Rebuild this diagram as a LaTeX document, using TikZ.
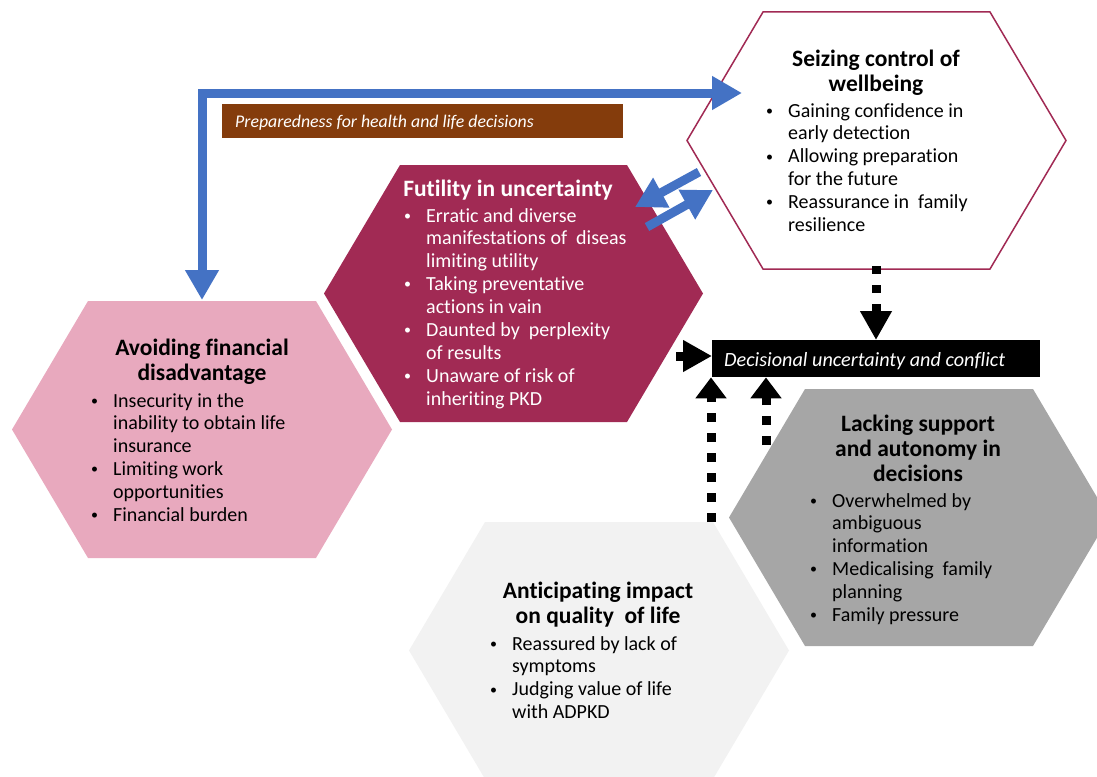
\documentclass[tikz,border=0pt]{standalone}
\usepackage{fontspec}
\setmainfont[Ligatures=NoCommon]{Carlito}
\usetikzlibrary{arrows.meta}
\definecolor{maroonc}{HTML}{A12A54}
\definecolor{pinkc}{HTML}{E8A9BE}
\definecolor{lgreyc}{HTML}{F2F2F2}
\definecolor{dgreyc}{HTML}{A6A6A6}
\definecolor{brownc}{HTML}{843C0C}
\definecolor{bluec}{HTML}{4472C4}
\newcommand{\bulpt}{\makebox[22pt][l]{\raisebox{1.8pt}{\fontsize{14}{14}\selectfont\textbullet}}}
\newcommand{\bulin}{\hspace*{22pt}}
\begin{document}
\begin{tikzpicture}[x=1pt,y=-1pt,
  ttl/.style={anchor=base, align=center, inner sep=0pt, font=\fontsize{23.5}{25.3}\selectfont\bfseries},
  body/.style={anchor=base west, align=left, inner sep=0pt, font=\fontsize{20}{22.9}\selectfont},
  bluearrow/.style={draw=bluec, line width=9pt, {Triangle[width=32pt,length=30pt]}-{Triangle[width=32pt,length=30pt]}},
  bluefat/.style={draw=bluec, line width=9pt, -{Triangle[width=32pt,length=30pt]}},
  dasharrow/.style={draw=black, line width=9pt, dash pattern=on 8pt off 11pt, -{Triangle[width=30pt,length=29pt]}},
  dashup/.style={draw=black, line width=9pt, dash pattern=on 9pt off 11pt, -{Triangle[width=30pt,length=21pt]}}
]
\useasboundingbox (0,0) rectangle (1097,776);
\clip (0,0) rectangle (1097,776);

% hexagons
\fill[lgreyc] (409,650.5) -- (485,522) -- (713,522) -- (789,650.5) -- (713,779) -- (485,779) -- cycle;
\fill[dgreyc] (729,517.5) -- (805,389) -- (1033,389) -- (1109,517.5) -- (1033,646) -- (805,646) -- cycle;
\fill[pinkc] (12,429.5) -- (88,301) -- (316,301) -- (392,429.5) -- (316,558) -- (88,558) -- cycle;
\fill[maroonc] (324,293.5) -- (400,165) -- (627,165) -- (703,293.5) -- (627,422) -- (400,422) -- cycle;
\filldraw[fill=white, draw=maroonc, line width=1.5pt] (687,140.5) -- (763,12) -- (990,12) -- (1066,140.5) -- (990,269) -- (763,269) -- cycle;

% brown label
\node[fill=brownc, minimum width=401pt, minimum height=34pt, inner sep=0pt, anchor=north west] (prep) at (222,104) {};
\node[anchor=base west, inner sep=0pt, text=white, font=\fontsize{17.8}{20}\selectfont\itshape] (preptxt) at (235,127) {Preparedness for health and life decisions};

% decisional box
\node[fill=black, minimum width=328pt, minimum height=37pt, inner sep=0pt, anchor=north west] (dec) at (712,340) {};
\node[anchor=base west, inner sep=0pt, text=white, font=\fontsize{20.2}{22}\selectfont\itshape] (dectxt) at (724,366) {Decisional uncertainty and conflict};

% titles (anchor = baseline of last line)
\node[ttl] (tSz) at (876,91.3) {Seizing control of\\wellbeing};
\node[ttl] (tAv) at (202,380.3) {Avoiding financial\\disadvantage};
\node[ttl, text=white] (tFu) at (508,196) {Futility in uncertainty};
\node[ttl] (tLk) at (918,481.6) {Lacking support\\and autonomy in\\decisions};
\node[ttl] (tAn) at (598,623.3) {Anticipating impact\\on quality~ of life};

% bodies (anchor = baseline of last line)
\node[body] (bSz) at (766,231.5) {\bulpt Gaining confidence in\\\bulin early detection\\\bulpt Allowing preparation\\\bulin for the future\\\bulpt Reassurance in~ family\\\bulin resilience};
\node[body] (bAv) at (91,521.5) {\bulpt Insecurity in the\\\bulin inability to obtain life\\\bulin insurance\\\bulpt Limiting work\\\bulin opportunities\\\bulpt Financial burden};
\node[body, text=white] (bFu) at (404,405.2) {\bulpt Erratic and diverse\\\bulin manifestations of~ diseas\\\bulin limiting utility\\\bulpt Taking preventative\\\bulin actions in vain\\\bulpt Daunted by~ perplexity\\\bulin of results\\\bulpt Unaware of risk of\\\bulin inheriting PKD};
\node[body] (bLk) at (810,621.5) {\bulpt Overwhelmed by\\\bulin ambiguous\\\bulin information\\\bulpt Medicalising~ family\\\bulin planning\\\bulpt Family pressure};
\node[body] (bAn) at (490,718.7) {\bulpt Reassured by lack of\\\bulin symptoms\\\bulpt Judging value of life\\\bulin with ADPKD};

% blue connectors
\coordinate (avTop) at (202,300);
\coordinate (szIn) at (742,93);
\draw[bluearrow] (avTop) |- (szIn);
\coordinate (aS1) at (699,172);
\coordinate (aF1) at (635,207);
\coordinate (aF2) at (647,227);
\coordinate (aS2) at (713,190);
\draw[bluefat] (aS1) -- (aF1);
\draw[bluefat] (aF2) -- (aS2);

% dashed connectors
\coordinate (szB) at (876,266);
\draw[dasharrow] (szB) -- (szB |- dec.north);
\coordinate (fuR) at (676,356);
\draw[dasharrow] (fuR) -- (fuR -| dec.west);
\coordinate (anT) at (711,522);
\draw[dashup] (anT) -- (anT |- dec.south);
\coordinate (lkL) at (766,445);
\draw[dashup] (lkL) -- (lkL |- dec.south);
\end{tikzpicture}
\end{document}
